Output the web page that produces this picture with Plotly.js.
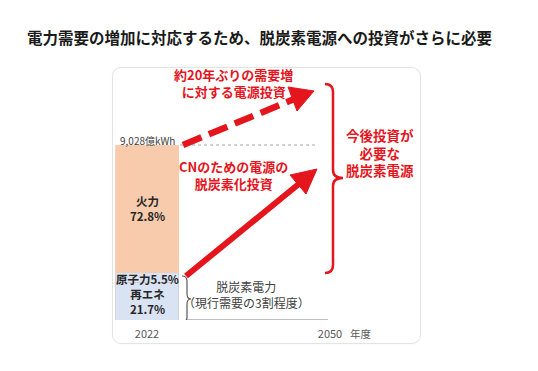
<!DOCTYPE html>
<html><head><meta charset="utf-8">
<script src="https://cdn.plot.ly/plotly-3.0.1.min.js"></script>
<style>
html,body{margin:0;padding:0;background:#fff;}
#wrap{position:relative;width:538px;height:371px;}
#card{position:absolute;left:112px;top:67px;width:307px;height:275px;border:1px solid #e4e4e4;border-radius:9px;box-shadow:0 0 2px rgba(0,0,0,0.06);}
#chart{position:absolute;left:0;top:0;width:538px;height:371px;}
</style></head>
<body><div id="wrap"><div id="card"></div><div id="chart"></div></div>
<script>
// ---- data ----
const years = [2022, 2050];
const yearLabels = ['2022', '2050'];
const totalDemand2022 = 9028;            // 億kWh
const sources = ['再エネ', '原子力', '火力'];
const shares = [21.7, 5.5, 72.8];        // % of 2022 generation
const sourceColors = ['#DAE3F3', '#DAE3F3', '#F8CBAD'];
const sourceText = ['再エネ<br>21.7%', '原子力5.5%', '火力<br>72.8%'];

// ---- geometry ----
const W = 538, H = 371;
const M = {l: 112, r: 118, t: 67, b: 51};
const plotW = W - M.l - M.r, plotH = H - M.t - M.b;
const xRange = [2016.645, 2063.77];
const yRange = [0, 13052];
const X = px => xRange[0] + (px - M.l) / plotW * (xRange[1] - xRange[0]);
const Y = py => yRange[0] + (M.t + plotH - py) / plotH * (yRange[1] - yRange[0]);
const PX = px => (px - M.l) / plotW;
const PY = py => (M.t + plotH - py) / plotH;
const RED = '#E5151E';
const FONT = '"Noto Sans CJK JP", "Noto Sans", sans-serif';
const barWidth = 9.64;

function pathOf(pts) {
  return pts.map(p => p[0] + ' ' + p.slice(1).reduce((a, v, i) => {
    if (i % 2 === 0) a.push(X(v)); else a.push(Y(v)); return a; }, []).join(' ')).join(' ');
}

// ---- traces ----
const traces = sources.map((s, i) => ({
  type: 'bar', name: s, x: [years[0]], y: [totalDemand2022 * shares[i] / 100],
  width: barWidth, marker: {color: sourceColors[i], line: {color: i < 2 ? '#c9ced6' : sourceColors[i], width: 0.8}},
  hoverinfo: 'skip', showlegend: false
}));

// ---- label annotations for bar segments ----
const annotations = [];
let cum = 0;
sources.forEach((s, i) => {
  const v = totalDemand2022 * shares[i] / 100;
  annotations.push({x: years[0], y: cum + v / 2, xref: 'x', yref: 'y', text: sourceText[i], showarrow: false,
    font: {family: FONT, size: 11.5, color: '#262626', weight: 'bold'}, xanchor: 'center', yanchor: 'middle',
    yshift: i === 1 ? -2 : 0});
  cum += v;
});
function txt(px, py, text, size, color, bold, extra) {
  annotations.push(Object.assign({x: PX(px), y: PY(py), xref: 'paper', yref: 'paper', text: text, showarrow: false,
    xanchor: 'center', yanchor: 'middle',
    font: {family: FONT, size: size, color: color, weight: bold ? 'bold' : 'normal'}}, extra || {}));
}
txt(147, 140, totalDemand2022.toLocaleString('en-US') + '億kWh', 10, '#404040', false);
txt(233, 83, '約20年ぶりの需要増<br>に対する電源投資', 13, RED, true);
txt(233, 175, 'CNのための電源の<br>脱炭素化投資', 13, RED, true);
txt(380, 152, '今後投資が<br>必要な<br>脱炭素電源', 13.5, RED, true);
txt(246, 294.5, '脱炭素電力<br>（現行需要の3割程度）', 12, '#404040', false);
txt(361, 333, '年度', 10.5, '#595959', false);

// ---- shapes ----
const shapes = [];
shapes.push({type: 'line', xref: 'x', yref: 'y', x0: X(180), x1: X(318), y0: totalDemand2022, y1: totalDemand2022,
  line: {color: '#a6a6a6', width: 1, dash: 'dot'}});
shapes.push({type: 'line', xref: 'x', yref: 'y', x0: X(187), x1: X(328), y0: 0, y1: 0,
  line: {color: '#7f7f7f', width: 1}});
// dashed arrow
shapes.push({type: 'line', xref: 'x', yref: 'y', x0: X(183), y0: totalDemand2022, x1: X(293), y1: Y(99.5),
  line: {color: RED, width: 6.5, dash: '20px,8px'}});
shapes.push({type: 'path', xref: 'x', yref: 'y', path: pathOf([['M', 314, 91], ['L', 297, 111], ['L', 288, 87]]) + ' Z',
  fillcolor: RED, line: {color: RED, width: 1}});
// solid arrow
shapes.push({type: 'line', xref: 'x', yref: 'y', x0: X(186), y0: Y(276), x1: X(300), y1: Y(183),
  line: {color: RED, width: 6}});
shapes.push({type: 'path', xref: 'x', yref: 'y', path: pathOf([['M', 317, 169], ['L', 306, 194], ['L', 290, 175]]) + ' Z',
  fillcolor: RED, line: {color: RED, width: 1}});
// red brace
shapes.push({type: 'path', xref: 'x', yref: 'y', path: pathOf([
  ['M', 325, 84], ['Q', 333, 84, 333, 92], ['L', 333, 170], ['Q', 333, 178, 343, 178],
  ['Q', 333, 178, 333, 186], ['L', 333, 265], ['Q', 333, 273, 325, 273]]),
  line: {color: RED, width: 2.5}});
// small brace
shapes.push({type: 'path', xref: 'x', yref: 'y', path: pathOf([
  ['M', 182, 276], ['Q', 187, 276, 187, 281], ['L', 187, 294], ['Q', 187, 299, 191, 299],
  ['Q', 187, 299, 187, 304], ['L', 187, 317], ['Q', 187, 322, 182, 322]]),
  line: {color: '#595959', width: 1.2}});

const layout = {
  width: W, height: H, margin: M,
  paper_bgcolor: 'rgba(0,0,0,0)', plot_bgcolor: 'rgba(0,0,0,0)',
  barmode: 'stack', bargap: 0,
  title: {text: '電力需要の増加に対応するため、脱炭素電源への投資がさらに必要',
    font: {family: FONT, size: 15.5, color: '#1a1a1a', weight: 'bold'},
    x: 259.5 / W, xref: 'container', xanchor: 'center', y: 1 - 39 / H, yref: 'container', yanchor: 'middle'},
  xaxis: {range: xRange, tickvals: years, ticktext: yearLabels, showgrid: false, zeroline: false, showline: false,
    ticks: '', ticklabelstandoff: 6, tickfont: {family: FONT, size: 11, color: '#595959'}, fixedrange: true},
  yaxis: {range: yRange, visible: false, showgrid: false, zeroline: false, fixedrange: true},
  annotations: annotations, shapes: shapes, showlegend: false
};
Plotly.newPlot('chart', traces, layout, {staticPlot: true, displayModeBar: false});
</script></body></html>
